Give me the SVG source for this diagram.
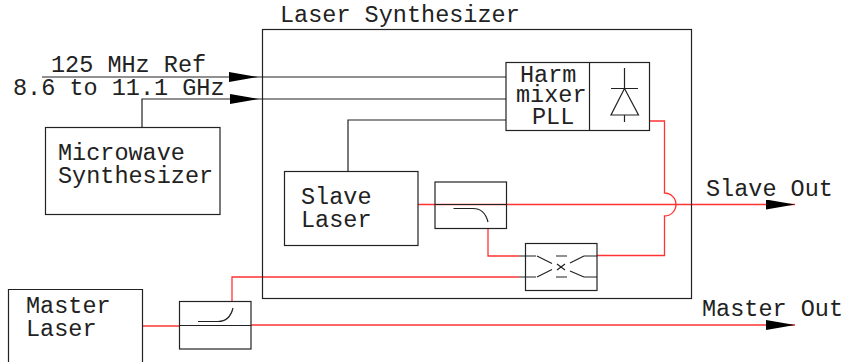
<svg xmlns="http://www.w3.org/2000/svg" width="847" height="362" viewBox="0 0 847 362">
<style>
text{font-family:"Liberation Mono","Courier New",monospace;font-size:23.500px;fill:#222}
.b{fill:none;stroke:#222;stroke-width:1.2}
.k{fill:none;stroke:#222;stroke-width:1.2}
.r{fill:none;stroke:#f33;stroke-width:1.3}
</style>
<defs>
<marker id="a" markerUnits="userSpaceOnUse" markerWidth="30" markerHeight="12" refX="29" refY="5" orient="auto"><path d="M0 0L29 5L0 10Z" fill="#000"/></marker>
</defs>
<rect width="847" height="362" fill="#fff"/>
<g id="connectors">
<path class="k" d="M42 77H506"/>
<path class="k" d="M142 127V99H506"/>
<path class="k" d="M348 171V120H506"/>
<path d="M42 77H258" fill="none" stroke="none" marker-end="url(#a)"/>
<path d="M142 99H259" fill="none" stroke="none" marker-end="url(#a)"/>
<path class="r" d="M649.500 121H664.500V193A11.500 11.500 0 0 1 664.500 216V255.500H597"/>
<path class="r" d="M418 204.500H795" marker-end="url(#a)"/>
<path class="r" d="M488 228.500V256H519"/>
<path class="r" d="M232 301V277H519"/>
<path class="r" d="M142 326H179"/>
<path class="r" d="M251 325H795" marker-end="url(#a)"/>
</g>
<text id="label-ref" x="51" y="72">125 MHz Ref</text>
<text id="label-ghz" x="13" y="95">8.6 to 11.1 GHz</text>
<text id="label-slave-out" x="706" y="196">Slave Out</text>
<text id="label-master-out" x="702" y="316">Master Out</text>
<g id="laser-synthesizer">
<rect class="b" x="262.500" y="29.500" width="429" height="269"/>
<text x="280" y="22">Laser Synthesizer</text>
</g>
<g id="harm-mixer">
<rect class="b" x="506" y="62.500" width="143.500" height="68" fill="#fff"/>
<path class="b" d="M589.500 62.500V130.500"/>
<text x="520" y="82">Harm</text>
<text x="516" y="102">mixer</text>
<text x="532" y="124">PLL</text>
<path class="b" d="M624.500 68V88M611 88.500H638M624.500 88.500L611 115H638.500ZM624.500 115V122"/>
</g>
<g id="microwave-synthesizer">
<rect class="b" x="45.500" y="127.500" width="174.500" height="87"/>
<text x="58" y="160">Microwave</text>
<text x="58" y="183">Synthesizer</text>
</g>
<g id="slave-laser">
<rect class="b" x="284.500" y="171.500" width="133.500" height="74"/>
<text x="301" y="204">Slave</text>
<text x="301" y="227">Laser</text>
</g>
<g id="coupler-slave">
<rect class="b" x="435" y="182" width="71.500" height="46.500"/>
<path class="k" d="M435 204.500H506"/>
<path class="k" d="M453.500 208.500H473C481 208.500 486 214 488 222"/>
</g>
<g id="crossover">
<rect class="b" x="525.500" y="243.500" width="71.500" height="47"/>
<path class="k" d="M519 256H536M556 256H567M584 256H597M519 277H536M556 277H567M584 277H597"/>
<path class="k" d="M537 256L552 263.500M557 264L565 270M570 271L584 277M537 277L552 269.500M557 270L565 264M570 263L584 256"/>
</g>
<g id="master-laser">
<path class="b" d="M142.500 362V289.500H8.500V362"/>
<text x="26" y="313">Master</text>
<text x="26" y="336">Laser</text>
</g>
<g id="coupler-master">
<rect class="b" x="179.500" y="301.500" width="71.500" height="47.500"/>
<path class="k" d="M179.500 325.500H251"/>
<path class="k" d="M198 321.500H218C226 321.500 231 316 233 308"/>
</g>
</svg>
